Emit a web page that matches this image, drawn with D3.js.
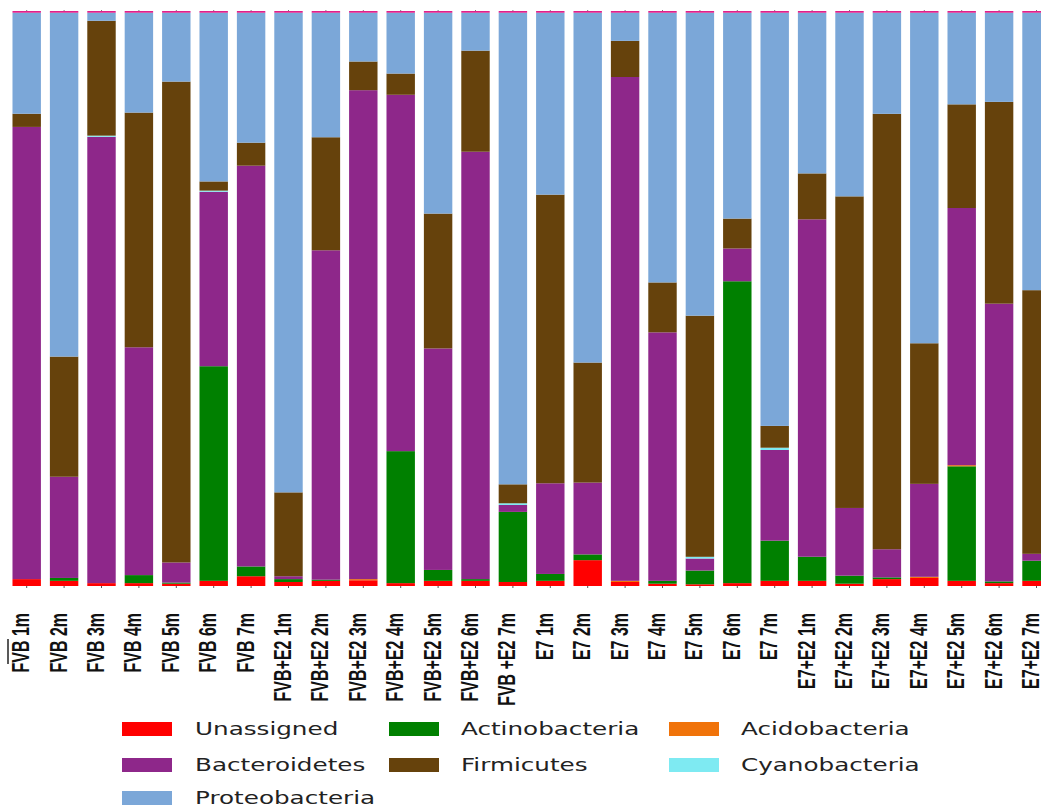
<!DOCTYPE html>
<html>
<head>
<meta charset="utf-8">
<script src="https://cdn.jsdelivr.net/npm/d3@7"></script>
<style>
  body { margin: 0; background: #fff; }
  svg { display: block; }
</style>
</head>
<body>
<div id="phyla-chart"></div>
<script>
// samples, in x order
var samples = ["FVB 1m", "FVB 2m", "FVB 3m", "FVB 4m", "FVB 5m", "FVB 6m", "FVB 7m",
  "FVB+E2 1m", "FVB+E2 2m", "FVB+E2 3m", "FVB+E2 4m", "FVB+E2 5m", "FVB+E2 6m", "FVB +E2 7m",
  "E7 1m", "E7 2m", "E7 3m", "E7 4m", "E7 5m", "E7 6m", "E7 7m",
  "E7+E2 1m", "E7+E2 2m", "E7+E2 3m", "E7+E2 4m", "E7+E2 5m", "E7+E2 6m", "E7+E2 7m"];

// relative abundance (%) per phylum
var unassigned     = [1.2, 0.9, 0.5, 0.5, 0.4, 0.9, 1.7, 0.7, 0.9, 1.0, 0.5, 0.9, 0.9, 0.7, 0.9, 4.5, 0.7, 0.4, 0.3, 0.5, 0.9, 0.9, 0.4, 1.2, 1.4, 0.9, 0.5, 0.9];
var actinobacteria = [0, 0.5, 0, 1.4, 0.2, 37.4, 1.7, 0.5, 0.2, 0, 23.0, 1.9, 0.3, 12.2, 1.2, 1.0, 0, 0.5, 2.4, 52.5, 7.0, 4.2, 1.4, 0.3, 0, 20.0, 0.3, 3.5];
var acidobacteria  = [0, 0, 0, 0, 0, 0, 0, 0, 0, 0.2, 0, 0, 0, 0, 0, 0, 0.2, 0, 0, 0, 0, 0, 0, 0, 0.2, 0.2, 0, 0];
var bacteroidetes  = [78.8, 17.6, 77.7, 39.7, 3.5, 30.4, 69.7, 0.5, 57.4, 85.2, 62.1, 38.6, 74.4, 1.2, 15.8, 12.5, 87.8, 43.3, 2.1, 5.7, 15.8, 58.8, 11.8, 4.9, 16.2, 44.9, 48.3, 1.2];
var cyanobacteria  = [0, 0, 0.2, 0, 0, 0.2, 0, 0, 0, 0, 0, 0, 0, 0.3, 0, 0, 0, 0, 0.3, 0, 0.4, 0, 0, 0, 0, 0, 0, 0];
var firmicutes     = [2.3, 20.9, 20.0, 40.9, 83.8, 1.6, 4.0, 14.6, 19.7, 5.0, 3.7, 23.5, 17.6, 3.3, 50.3, 20.9, 6.3, 8.7, 42.1, 5.2, 3.8, 8.0, 54.3, 75.8, 24.5, 18.1, 35.1, 45.9];
var proteobacteria = [17.6, 59.8, 1.4, 17.4, 12.0, 29.4, 22.6, 83.5, 21.7, 8.5, 10.6, 35.0, 6.6, 82.1, 31.7, 60.9, 4.9, 47.0, 52.9, 35.8, 72.0, 28.0, 32.0, 17.6, 57.6, 16.0, 15.5, 48.3];
var other          = [0.3, 0.3, 0.3, 0.3, 0.3, 0.3, 0.3, 0.3, 0.3, 0.3, 0.3, 0.3, 0.3, 0.3, 0.3, 0.3, 0.3, 0.3, 0.3, 0.3, 0.3, 0.3, 0.3, 0.3, 0.3, 0.3, 0.3, 0.3];

// stacking order, bottom to top
var phyla = ["Unassigned", "Actinobacteria", "Acidobacteria", "Bacteroidetes", "Cyanobacteria", "Firmicutes", "Proteobacteria", "Other"];
var colors = ["#ff0000", "#008000", "#f0730a", "#8e278a", "#7eeaf2", "#66420c", "#7ba7d8", "#e0218a"];
var seriesValues = [unassigned, actinobacteria, acidobacteria, bacteroidetes, cyanobacteria, firmicutes, proteobacteria, other];

// legend is filled row by row, 3 columns
var legendItems = ["Unassigned", "Actinobacteria", "Acidobacteria", "Bacteroidetes", "Firmicutes", "Cyanobacteria", "Proteobacteria"];

var width = 1041,
    height = 807;

var rows = samples.map(function (s, i) {
  var row = { sample: s };
  phyla.forEach(function (p, j) { row[p] = seriesValues[j][i]; });
  return row;
});

var svg = d3.select("#phyla-chart").append("svg")
    .attr("width", width)
    .attr("height", height);

var x = d3.scaleBand()
    .domain(samples)
    .range([8, 8 + 28 * 37.4])
    .paddingInner(0.24)
    .paddingOuter(0.12);

var y = d3.scaleLinear()
    .domain([0, 1])
    .range([586, 11]);

var color = d3.scaleOrdinal().domain(phyla).range(colors);

var stack = d3.stack()
    .keys(phyla)
    .offset(d3.stackOffsetExpand);

var layers = stack(rows);

svg.append("g")
  .selectAll("g")
  .data(layers)
  .join("g")
    .attr("fill", function (d) { return color(d.key); })
  .selectAll("rect")
  .data(function (d) { return d; })
  .join("rect")
    .attr("x", function (d) { return x(d.data.sample); })
    .attr("width", x.bandwidth())
    .attr("y", function (d) { return y(d[1]); })
    .attr("height", function (d) { return Math.max(0, y(d[0]) - y(d[1])); });

// tiny ticks at top and bottom of every bar
svg.append("g")
    .attr("transform", "translate(0,11)")
    .call(d3.axisTop(x).tickSize(1).tickFormat(""))
    .call(function (g) { g.select(".domain").remove(); })
    .call(function (g) { g.selectAll("line").attr("stroke", "#777"); });

var xAxis = svg.append("g")
    .attr("transform", "translate(0,586)")
    .call(d3.axisBottom(x).tickSize(2).tickPadding(0))
    .call(function (g) { g.select(".domain").remove(); })
    .call(function (g) { g.selectAll("line").attr("stroke", "#555"); });

// labels are rotated and stretched sideways like the source image
xAxis.selectAll("text")
    .attr("y", 0)
    .attr("dy", "0.35em")
    .attr("text-anchor", "end")
    .attr("fill", "#111")
    .attr("font-family", "Liberation Sans, Arial, sans-serif")
    .attr("font-weight", "bold")
    .attr("font-size", 16)
    .attr("transform", "translate(-6,27) scale(1.5,1) rotate(-90)");

// stray mark left of the first label
svg.append("line")
    .attr("x1", 8).attr("x2", 8)
    .attr("y1", 639).attr("y2", 664)
    .attr("stroke", "#222")
    .attr("stroke-width", 1.5);

// legend
var colSwatch = [122, 389, 669],
    colText = [195, 461, 741],
    rowY = [729, 765, 798];

var legend = svg.append("g")
  .selectAll("g")
  .data(legendItems)
  .join("g")
    .attr("transform", function (d, i) {
      return "translate(" + colSwatch[i % 3] + "," + rowY[Math.floor(i / 3)] + ")";
    });

legend.append("rect")
    .attr("x", 0)
    .attr("y", -7)
    .attr("width", 50)
    .attr("height", 14)
    .attr("fill", function (d) { return color(d); });

legend.append("text")
    .attr("transform", function (d, i) {
      return "translate(" + (colText[i % 3] - colSwatch[i % 3]) + ",0) scale(1.45,1)";
    })
    .attr("dy", "0.35em")
    .attr("font-family", "DejaVu Sans, sans-serif")
    .attr("font-size", 17)
    .attr("fill", "#222")
    .text(function (d) { return d; });
</script>
</body>
</html>
